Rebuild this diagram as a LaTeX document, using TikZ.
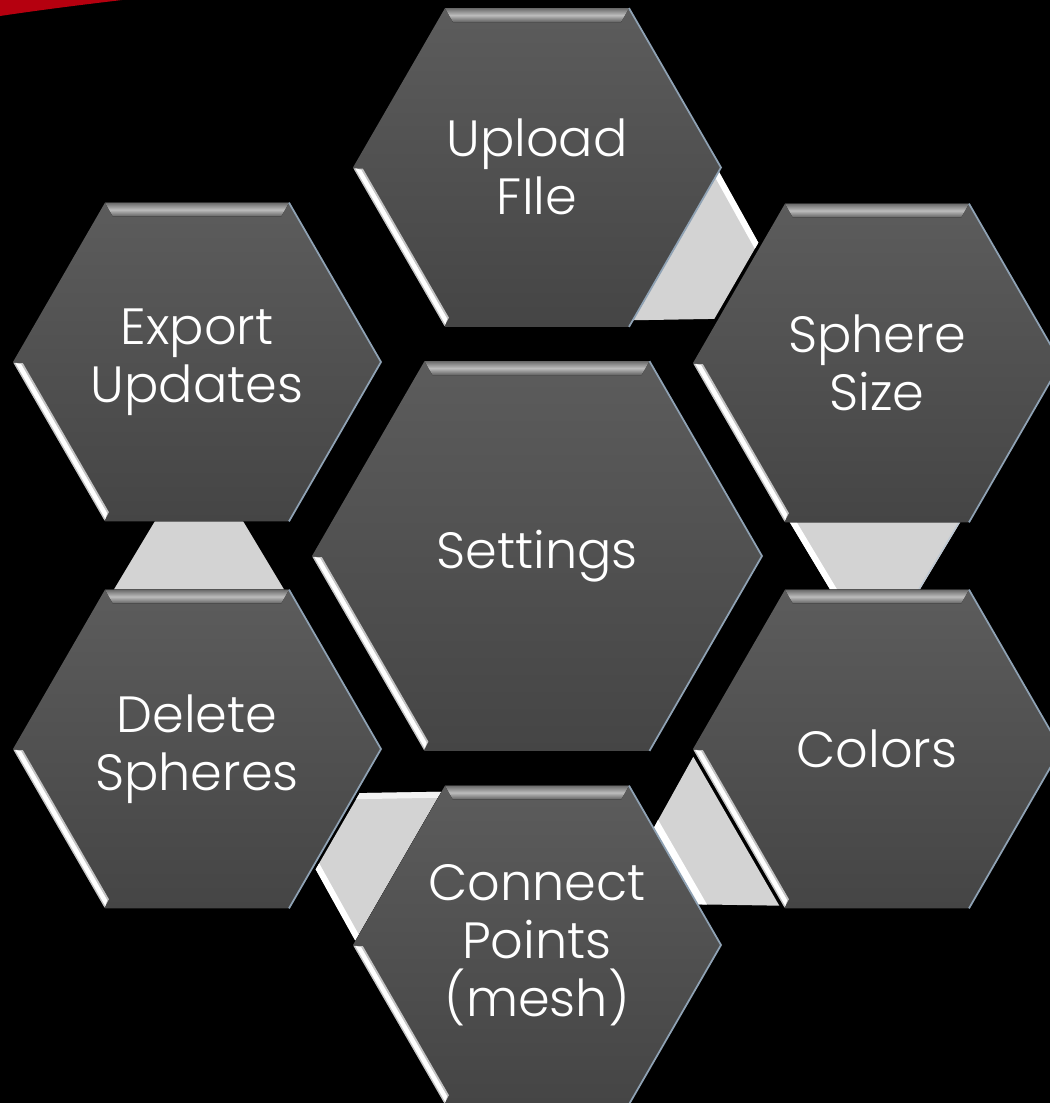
\documentclass[tikz,border=0pt]{standalone}
\usepackage{fontspec}
\setmainfont{Poppins Light}
\definecolor{hextop}{HTML}{5C5C5C}
\definecolor{hexbot}{HTML}{454545}
\definecolor{bevA}{HTML}{6A6A6A}
\definecolor{bevB}{HTML}{BDBDBD}
\definecolor{bevC}{HTML}{5E5E5E}
\definecolor{glowgray}{HTML}{C4C4C4}
\definecolor{edgeblue}{HTML}{8FA2B4}
\definecolor{connfill}{HTML}{D3D3D3}
\definecolor{swooshred}{HTML}{B5000F}
\tikzset{
  hexbody/.style={top color=hextop, bottom color=hexbot},
  topbevel/.style={top color=bevA, bottom color=bevC, middle color=bevB},
  glowstrip/.style={fill=glowgray},
  rimline/.style={draw=edgeblue, line width=1pt, line join=miter},
  connbody/.style={fill=connfill},
  connglow/.style={fill=white},
  connsoft/.style={fill=white!70!connfill},
  lbl/.style={text=white, align=center, inner sep=0pt,
    font=\fontsize{29}{33}\selectfont},
}
\newcommand\hexcell[3]{%
  \begin{scope}[shift={(#1,#2)}]
    \pgfmathsetmacro\hR{#3}
    \pgfmathsetmacro\hH{#3*0.8660254}
    \pgfmathsetmacro\hS{#3/2}
    \fill[hexbody] (-\hR,0) -- (-\hS,-\hH) -- (\hS,-\hH) -- (\hR,0) -- (\hS,\hH) -- (-\hS,\hH) -- cycle;
    \begin{scope}[shift={(-\hS,-\hH)}]
      \fill[topbevel] (0,0) -- (\hR,0) -- ({\hR-8},14) -- (8,14) -- cycle;
    \end{scope}
    \begin{scope}[shift={(-\hR,0)}, rotate=-60]
      \fill[glowstrip] (1,0) -- ({\hR-1},0) -- ({\hR-6},-8) -- (6,-8) -- cycle;
      \fill[white] (2,-1.5) -- ({\hR-2},-1.5) -- ({\hR-6},-6) -- (6,-6) -- cycle;
    \end{scope}
    \draw[rimline] (\hS,-\hH) -- (\hR,0) -- (\hS,\hH);
  \end{scope}}
% connector trapezoid, local x = radial, local y = clockwise tangential
\newcommand\connshape[1]{%
  \begin{scope}[shift={(537,556)}, rotate=#1]
    \fill[connbody] (252,-35) -- (424,-35) -- (382,35) -- (294,35) -- cycle;
  \end{scope}}
\begin{document}
\begin{tikzpicture}[x=0.02cm, y=-0.02cm]
  \useasboundingbox (0,0) rectangle (1050,1103);
  \begin{scope}
    \clip (0,0) rectangle (1050,1103);
    \fill[black] (0,0) rectangle (1050,1103);
    \fill[swooshred] (0,0) -- (122,0) .. controls (80,5) and (40,10) .. (0,16) -- cycle;

    % connectors
    \connshape{60}
    \begin{scope}[shift={(537,556)}, rotate=60]
      \fill[connglow] (424,-35) -- (382,35) -- (375,35) -- (417,-35) -- cycle;
    \end{scope}
    \connshape{0}
    \begin{scope}[shift={(537,556)}, rotate=0]
      \fill[connglow] (252,-35) -- (294,35) -- (301,35) -- (259,-35) -- cycle;
      \draw[edgeblue!60!white, line width=0.8pt] (423,-35) -- (381,35);
    \end{scope}
    \connshape{-60}
    \begin{scope}[shift={(537,556)}, rotate=-60]
      \fill[connglow] (294,35) -- (382,35) -- (387,27) -- (289,27) -- cycle;
    \end{scope}
    \connshape{-120}
    \begin{scope}[shift={(537,556)}, rotate=-120]
      \fill[connsoft] (252,-35) -- (294,35) -- (301,35) -- (259,-35) -- cycle;
      \fill[connglow] (424,-35) -- (382,35) -- (375,35) -- (417,-35) -- cycle;
    \end{scope}
    \connshape{180}

    % hexagons
    \hexcell{537}{167.5}{184}
    \hexcell{877}{363}{184}
    \hexcell{197}{362}{184}
    \hexcell{537}{556}{225}
    \hexcell{877}{749}{184}
    \hexcell{197}{749}{184}
    \hexcell{537}{945}{184}

    % labels
    \node[lbl] (upload) at (537,167) {Upload\\FIle};
    \node[lbl] (sphere) at (877,363) {Sphere\\Size};
    \node[lbl] (export) at (197,362) {Export\\Updates};
    \node[lbl] (settings) at (537,556) {Settings};
    \node[lbl] (colors) at (877,749) {Colors};
    \node[lbl] (delete) at (197,749) {Delete\\Spheres};
    \node[lbl] (connect) at (537,945) {Connect\\Points\\(mesh)};
  \end{scope}
\end{tikzpicture}
\end{document}
